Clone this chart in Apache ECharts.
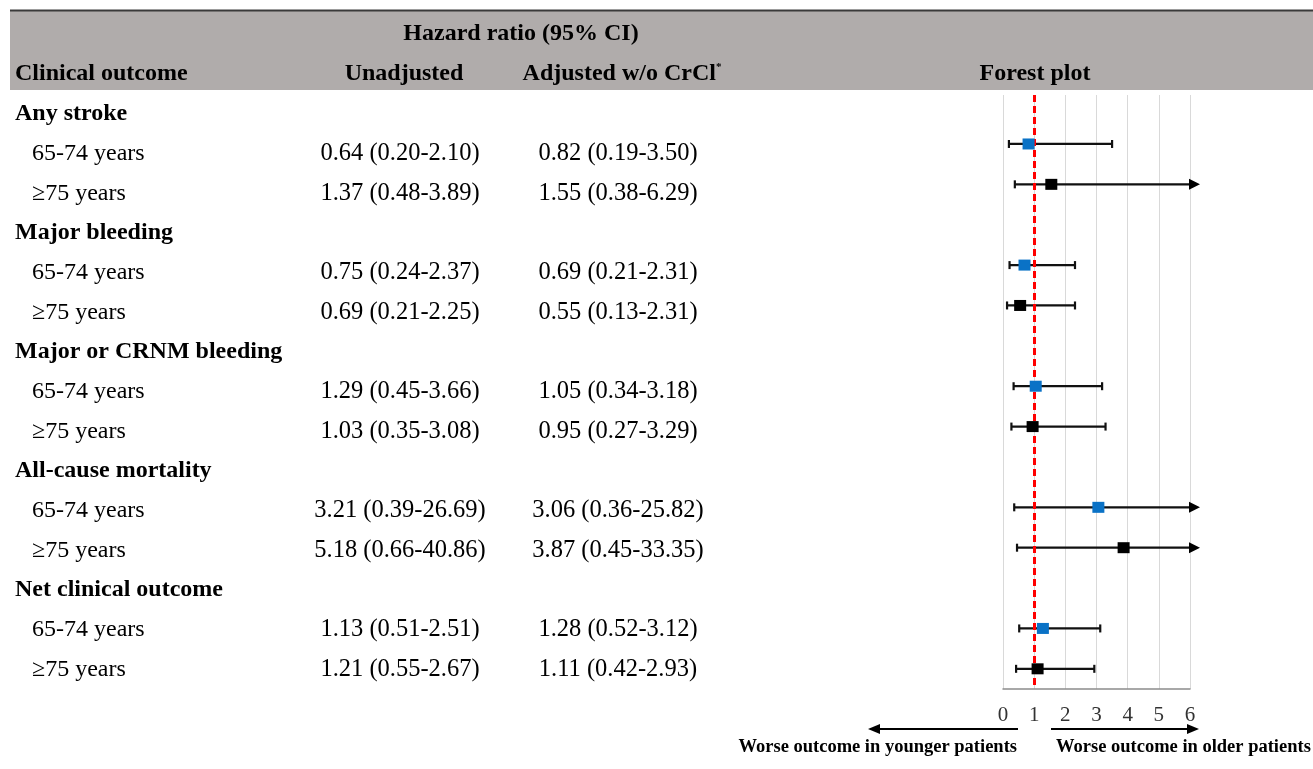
<!DOCTYPE html>
<html>
<head>
<meta charset="utf-8">
<script src="https://cdn.jsdelivr.net/npm/echarts@6/dist/echarts.min.js"></script>
<style>
html,body{margin:0;padding:0;background:#fff;}
#chart{width:1313px;height:769px;}
</style>
</head>
<body>
<div id="chart"></div>
<script>
// ---------- DATA ----------
const groups = ["Any stroke", "Major bleeding", "Major or CRNM bleeding", "All-cause mortality", "Net clinical outcome"];
const subgroups = ["65-74 years", "\u226575 years"];
const unadjHR = [0.64, 1.37, 0.75, 0.69, 1.29, 1.03, 3.21, 5.18, 1.13, 1.21];
const unadjLo = [0.20, 0.48, 0.24, 0.21, 0.45, 0.35, 0.39, 0.66, 0.51, 0.55];
const unadjHi = [2.10, 3.89, 2.37, 2.25, 3.66, 3.08, 26.69, 40.86, 2.51, 2.67];
const adjHR = [0.82, 1.55, 0.69, 0.55, 1.05, 0.95, 3.06, 3.87, 1.28, 1.11];
const adjLo = [0.19, 0.38, 0.21, 0.13, 0.34, 0.27, 0.36, 0.45, 0.52, 0.42];
const adjHi = [3.50, 6.29, 2.31, 2.31, 3.18, 3.29, 25.82, 33.35, 3.12, 2.93];
const xTicks = [0, 1, 2, 3, 4, 5, 6];
const refValue = 1;

// ---------- LAYOUT / STYLE ----------
const FONT = '"Liberation Serif", "Times New Roman", serif';
const FS = 24;
const FSNUM = 24.5;
const colGroupX = 15, colSubX = 32, colUnadjX = 400, colAdjX = 618;
const blue = '#0a72c6', black = '#000000';
const xMax = xTicks[xTicks.length - 1];

function fmt(h, l, u) { return h.toFixed(2) + ' (' + l.toFixed(2) + '-' + u.toFixed(2) + ')'; }

// table rows: group header at g*3, subgroups at g*3+1+k
const groupData = [], subData = [], unadjData = [], adjData = [];
groups.forEach((g, gi) => {
  groupData.push({ value: [colGroupX, gi * 3], name: g });
  subgroups.forEach((s, k) => {
    const i = gi * 2 + k;
    const row = gi * 3 + 1 + k;
    subData.push({ value: [colSubX, row], name: s });
    unadjData.push({ value: [colUnadjX, row], name: fmt(unadjHR[i], unadjLo[i], unadjHi[i]) });
    adjData.push({ value: [colAdjX, row], name: fmt(adjHR[i], adjLo[i], adjHi[i]) });
  });
});

// forest rows: pairs with one empty spacer row between groups
const ciData = [], ptBlue = [], ptBlack = [];
groups.forEach((g, gi) => {
  subgroups.forEach((s, k) => {
    const i = gi * 2 + k;
    const row = gi * 3 + k;
    ciData.push([adjLo[i], adjHi[i], row]);
    (k === 0 ? ptBlue : ptBlack).push([adjHR[i], row]);
  });
});

function textSeries(data, align, bold, size) {
  return {
    type: 'scatter', xAxisIndex: 0, yAxisIndex: 0, data: data,
    symbolSize: 1, itemStyle: { color: 'rgba(0,0,0,0)', opacity: 1 }, silent: true,
    label: {
      show: true, position: 'inside', align: align, verticalAlign: 'middle', opacity: 1,
      formatter: p => p.name, fontFamily: FONT, fontSize: size || FS,
      fontWeight: bold ? 'bold' : 'normal', color: '#000', textBorderWidth: 0
    }
  };
}

const chart = echarts.init(document.getElementById('chart'), null, { renderer: 'canvas' });

const option = {
  backgroundColor: '#ffffff',
  animation: false,
  grid: [
    { left: 0, top: 94, width: 1313, height: 595.5, containLabel: false },
    { left: 1003, top: 95, width: 187, height: 594, containLabel: false }
  ],
  xAxis: [
    { gridIndex: 0, type: 'value', min: 0, max: 1313, show: false },
    {
      gridIndex: 1, type: 'value', min: 0, max: xMax, interval: 1,
      axisLine: { show: true, onZero: false, lineStyle: { color: '#8c8c8c', width: 1.5 } },
      axisTick: { show: false },
      axisLabel: { fontFamily: FONT, fontSize: 21, color: '#333', margin: 16,
        formatter: v => (xTicks.indexOf(v) >= 0 ? String(v) : '') },
      splitLine: { show: true, lineStyle: { color: '#d9d9d9', width: 1 } }
    }
  ],
  yAxis: [
    { gridIndex: 0, type: 'value', inverse: true, min: -0.5, max: 14.5, show: false },
    { gridIndex: 1, type: 'value', inverse: true, min: -1.213, max: 13.5, show: false }
  ],
  series: [
    textSeries(groupData, 'left', true),
    textSeries(subData, 'left', false),
    textSeries(unadjData, 'center', false, FSNUM),
    textSeries(adjData, 'center', false, FSNUM),
    {
      type: 'custom', xAxisIndex: 1, yAxisIndex: 1, data: ciData, z: 3, silent: true,
      renderItem: function (params, api) {
        const lo = api.value(0), hi = api.value(1), row = api.value(2);
        const p1 = api.coord([lo, row]);
        const p2 = api.coord([Math.min(hi, xMax), row]);
        const st = { stroke: '#111', lineWidth: 2.2 };
        const ch = [
          { type: 'line', shape: { x1: p1[0], y1: p1[1], x2: p2[0], y2: p2[1] }, style: st },
          { type: 'line', shape: { x1: p1[0], y1: p1[1] - 4, x2: p1[0], y2: p1[1] + 4 }, style: st }
        ];
        if (hi > xMax) {
          ch.push({ type: 'polygon', shape: { points: [[p2[0] - 1, p2[1] - 5.5], [p2[0] + 10, p2[1]], [p2[0] - 1, p2[1] + 5.5]] },
            style: { fill: '#000' } });
        } else {
          ch.push({ type: 'line', shape: { x1: p2[0], y1: p2[1] - 4, x2: p2[0], y2: p2[1] + 4 }, style: st });
        }
        return { type: 'group', children: ch };
      }
    },
    {
      type: 'line', xAxisIndex: 1, yAxisIndex: 1, data: [], z: 4, silent: true,
      markLine: {
        symbol: 'none', silent: true, label: { show: false },
        lineStyle: { color: '#ff0000', width: 3, type: [7, 4] },
        data: [{ xAxis: refValue }]
      }
    },
    {
      type: 'scatter', xAxisIndex: 1, yAxisIndex: 1, data: ptBlue, z: 5, silent: true,
      symbol: 'rect', symbolSize: [12, 11], itemStyle: { color: blue, opacity: 1 }
    },
    {
      type: 'scatter', xAxisIndex: 1, yAxisIndex: 1, data: ptBlack, z: 5, silent: true,
      symbol: 'rect', symbolSize: [12, 11], itemStyle: { color: black, opacity: 1 }
    }
  ],
  graphic: [
    { type: 'rect', z: -10, shape: { x: 10, y: 11, width: 1303, height: 79 }, style: { fill: '#b0acab' } },
    { type: 'line', shape: { x1: 10, y1: 10.5, x2: 1313, y2: 10.5 }, style: { stroke: '#3a3a3a', lineWidth: 2 } },
    { type: 'text', x: 521, y: 34, style: { text: 'Hazard ratio (95% CI)', font: 'bold ' + FS + 'px ' + FONT, fill: '#000', align: 'center', verticalAlign: 'middle' } },
    { type: 'text', x: 15, y: 74, style: { text: 'Clinical outcome', font: 'bold ' + FS + 'px ' + FONT, fill: '#000', align: 'left', verticalAlign: 'middle' } },
    { type: 'text', x: 404, y: 74, style: { text: 'Unadjusted', font: 'bold ' + FS + 'px ' + FONT, fill: '#000', align: 'center', verticalAlign: 'middle' } },
    { type: 'text', x: 622, y: 74, style: {
        text: 'Adjusted w/o CrCl{sup|*}', font: 'bold ' + FS + 'px ' + FONT, fill: '#000', align: 'center', verticalAlign: 'middle',
        rich: { sup: { fontSize: 11, fontFamily: FONT, fontWeight: 'bold', verticalAlign: 'top', padding: [0, 0, 12, 0] } } } },
    { type: 'text', x: 1035, y: 74, style: { text: 'Forest plot', font: 'bold ' + FS + 'px ' + FONT, fill: '#000', align: 'center', verticalAlign: 'middle' } },
    // direction arrows
    { type: 'line', shape: { x1: 1018, y1: 729, x2: 878, y2: 729 }, style: { stroke: '#000', lineWidth: 2 } },
    { type: 'polygon', shape: { points: [[868, 729], [880, 724], [880, 734]] }, style: { fill: '#000' } },
    { type: 'line', shape: { x1: 1051, y1: 729, x2: 1188, y2: 729 }, style: { stroke: '#000', lineWidth: 2 } },
    { type: 'polygon', shape: { points: [[1199, 729], [1187, 724], [1187, 734]] }, style: { fill: '#000' } },
    { type: 'text', x: 1017, y: 747, style: { text: 'Worse outcome in younger patients', font: 'bold 18.5px ' + FONT, fill: '#000', align: 'right', verticalAlign: 'middle' } },
    { type: 'text', x: 1056, y: 747, style: { text: 'Worse outcome in older patients', font: 'bold 18.5px ' + FONT, fill: '#000', align: 'left', verticalAlign: 'middle' } }
  ]
};
chart.setOption(option);
</script>
</body>
</html>
